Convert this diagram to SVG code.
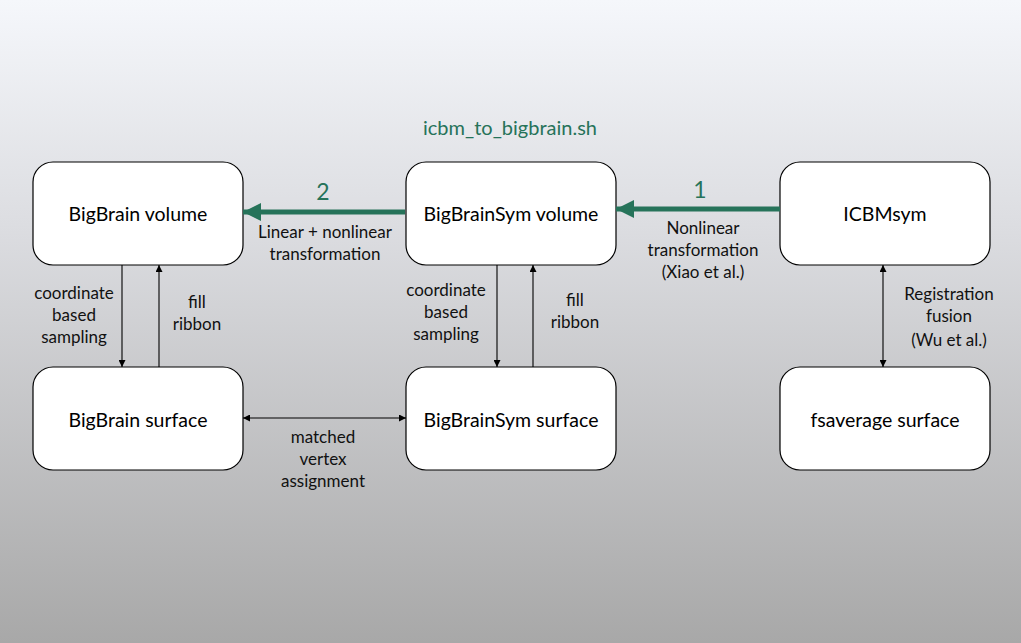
<svg xmlns="http://www.w3.org/2000/svg" width="1021" height="643" viewBox="0 0 1021 643">
  <defs>
    <linearGradient id="bg" x1="0" y1="0" x2="0" y2="1">
      <stop offset="0" stop-color="#f5f7fb"/>
      <stop offset="0.35" stop-color="#dcdde1"/>
      <stop offset="1" stop-color="#a8a8a8"/>
    </linearGradient>
    <marker id="tip" viewBox="0 0 10 10" refX="10" refY="5" markerWidth="7" markerHeight="7" markerUnits="userSpaceOnUse" orient="auto-start-reverse">
      <path d="M0,0 L10,5 L0,10 Z" fill="#000"/>
    </marker>
    <marker id="bigtip" viewBox="0 0 10 10" refX="10" refY="5" markerWidth="18" markerHeight="18" markerUnits="userSpaceOnUse" orient="auto">
      <path d="M0,0 L10,5 L0,10 Z" fill="#26735a"/>
    </marker>
  </defs>
  <style>
    .box { fill: #ffffff; stroke: #000000; stroke-width: 1.2; }
    .name { font-family: "Lato", "Open Sans", sans-serif; font-size: 19.5px; fill: #000; text-anchor: middle; }
    .lbl { font-family: "Lato", "Open Sans", sans-serif; font-size: 17px; fill: #111; text-anchor: middle; }
    .thin { stroke: #000; stroke-width: 1.1; fill: none; }
    .thick { stroke: #26735a; stroke-width: 5; fill: none; }
    .green { font-family: "Lato", "Open Sans", sans-serif; fill: #26735a; text-anchor: middle; }
  </style>

  <rect x="0" y="0" width="1021" height="643" fill="url(#bg)"/>

  <text class="green" x="510" y="135" font-size="20">icbm_to_bigbrain.sh</text>

  <g id="bigbrain-volume">
    <rect class="box" x="33" y="162" width="210" height="103" rx="20"/>
    <text class="name" x="138" y="221">BigBrain volume</text>
  </g>
  <g id="bigbrainsym-volume">
    <rect class="box" x="406" y="162" width="210" height="103" rx="20"/>
    <text class="name" x="511" y="221">BigBrainSym volume</text>
  </g>
  <g id="icbmsym">
    <rect class="box" x="780" y="162" width="210" height="103" rx="20"/>
    <text class="name" x="885" y="221">ICBMsym</text>
  </g>
  <g id="bigbrain-surface">
    <rect class="box" x="33" y="367" width="210" height="103" rx="20"/>
    <text class="name" x="138" y="427">BigBrain surface</text>
  </g>
  <g id="bigbrainsym-surface">
    <rect class="box" x="406" y="367" width="210" height="103" rx="20"/>
    <text class="name" x="511" y="427">BigBrainSym surface</text>
  </g>
  <g id="fsaverage-surface">
    <rect class="box" x="780" y="367" width="210" height="103" rx="20"/>
    <text class="name" x="885" y="427">fsaverage surface</text>
  </g>

  <g id="connectors">
    <!-- registration steps -->
    <line class="thick" x1="405" y1="212" x2="243" y2="212" marker-end="url(#bigtip)"/>
    <text class="green" x="323" y="200" font-size="23">2</text>
    <line class="thick" x1="780" y1="209" x2="616" y2="209" marker-end="url(#bigtip)"/>
    <text class="green" x="700" y="198" font-size="23">1</text>
    <text class="lbl" x="325" y="238">Linear + nonlinear</text>
    <text class="lbl" x="325" y="260">transformation</text>
    <text class="lbl" x="703" y="234">Nonlinear</text>
    <text class="lbl" x="703" y="256">transformation</text>
    <text class="lbl" x="703" y="278">(Xiao et al.)</text>

    <!-- BigBrain volume / surface -->
    <line class="thin" x1="122" y1="265" x2="122" y2="367" marker-end="url(#tip)"/>
    <line class="thin" x1="159" y1="367" x2="159" y2="265" marker-end="url(#tip)"/>
    <text class="lbl" x="74" y="299">coordinate</text>
    <text class="lbl" x="74" y="321">based</text>
    <text class="lbl" x="74" y="343">sampling</text>
    <text class="lbl" x="197" y="308">fill</text>
    <text class="lbl" x="197" y="330">ribbon</text>

    <!-- BigBrainSym volume / surface -->
    <line class="thin" x1="497" y1="265" x2="497" y2="367" marker-end="url(#tip)"/>
    <line class="thin" x1="533" y1="367" x2="533" y2="265" marker-end="url(#tip)"/>
    <text class="lbl" x="446" y="296">coordinate</text>
    <text class="lbl" x="446" y="318">based</text>
    <text class="lbl" x="446" y="340">sampling</text>
    <text class="lbl" x="575" y="306">fill</text>
    <text class="lbl" x="575" y="328">ribbon</text>

    <!-- ICBMsym / fsaverage -->
    <line class="thin" x1="883" y1="265" x2="883" y2="367" marker-start="url(#tip)" marker-end="url(#tip)"/>
    <text class="lbl" x="949" y="300">Registration</text>
    <text class="lbl" x="949" y="322">fusion</text>
    <text class="lbl" x="949" y="346">(Wu et al.)</text>

    <!-- surface to surface -->
    <line class="thin" x1="243" y1="418" x2="406" y2="418" marker-start="url(#tip)" marker-end="url(#tip)"/>
    <text class="lbl" x="323" y="443">matched</text>
    <text class="lbl" x="323" y="465">vertex</text>
    <text class="lbl" x="323" y="487">assignment</text>
  </g>
</svg>
